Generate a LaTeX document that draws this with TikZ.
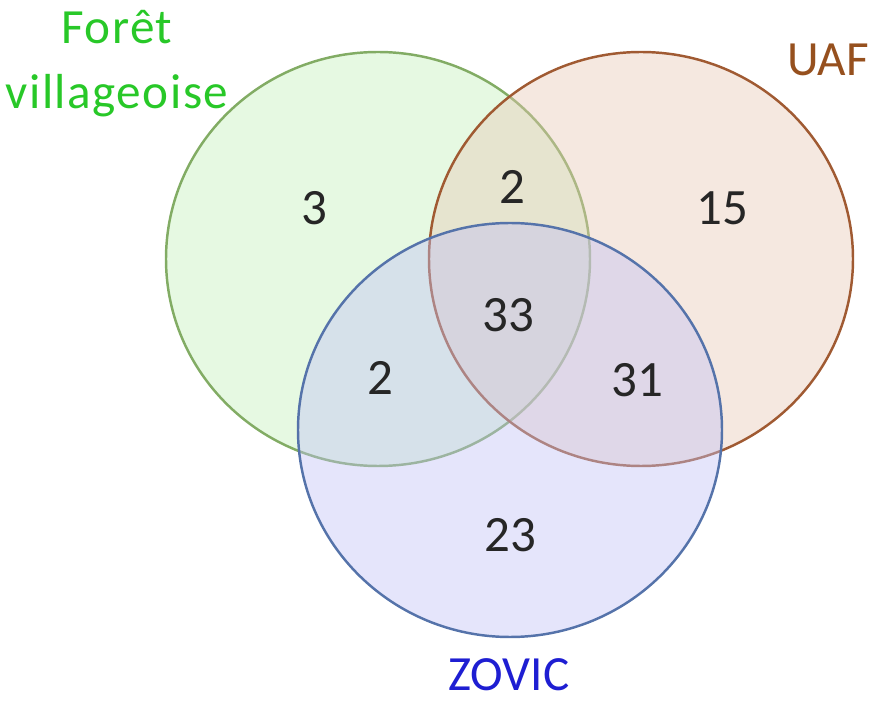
\documentclass[tikz,border=0pt]{standalone}
\usepackage{fontspec}
\setmainfont{Carlito}
\usepackage{xcolor}

\definecolor{vertfill}{RGB}{196,240,186}
\definecolor{vertline}{RGB}{130,172,100}
\definecolor{vertlabel}{RGB}{40,200,40}
\definecolor{uaffill}{RGB}{232,200,180}
\definecolor{uafline}{RGB}{160,90,50}
\definecolor{uaflabel}{RGB}{150,80,30}
\definecolor{zovfill}{RGB}{192,192,245}
\definecolor{zovline}{RGB}{85,115,170}
\definecolor{zovlabel}{RGB}{30,30,210}

\begin{document}
\begin{tikzpicture}[
  x=0.02cm, y=-0.02cm,
  setcircle/.style={line width=1.4pt, fill opacity=0.42, x radius=212, y radius=207},
  count/.style={font=\fontsize{29}{34}\selectfont, text=black!85},
  setname/.style={font=\fontsize{28}{37}\selectfont, align=center}
]
\useasboundingbox (0,0) rectangle (877,702);

% centres des ensembles
\coordinate (foret) at (378,259);
\coordinate (uaf) at (641,259);
\coordinate (zovic) at (510,430);

\draw[setcircle, fill=vertfill, draw=vertline] (foret) ellipse [];
\draw[setcircle, fill=uaffill, draw=uafline] (uaf) ellipse [];
\draw[setcircle, fill=zovfill, draw=zovline] (zovic) ellipse [];

% effectifs
\node (nforet) [count] at (314,208) {3};
\node (nfu) [count] at (512,187) {2};
\node (nuaf) [count] at (722,208) {15};
\node (nall) [count] at (508,315) {33};
\node (nfz) [count] at (380,378) {2};
\node (nuz) [count] at (637,380) {31};
\node (nzovic) [count] at (510,535) {23};

% noms
\node (lforet) [setname, text=vertlabel, font=\fontsize{28}{37}\selectfont\addfontfeatures{LetterSpace=3}] at (117,64) {Forêt\\villageoise};
\node (luaf) [setname, text=uaflabel] at (828,60) {UAF};
\node (lzovic) [setname, text=zovlabel] at (509,675) {ZOVIC};
\end{tikzpicture}
\end{document}
